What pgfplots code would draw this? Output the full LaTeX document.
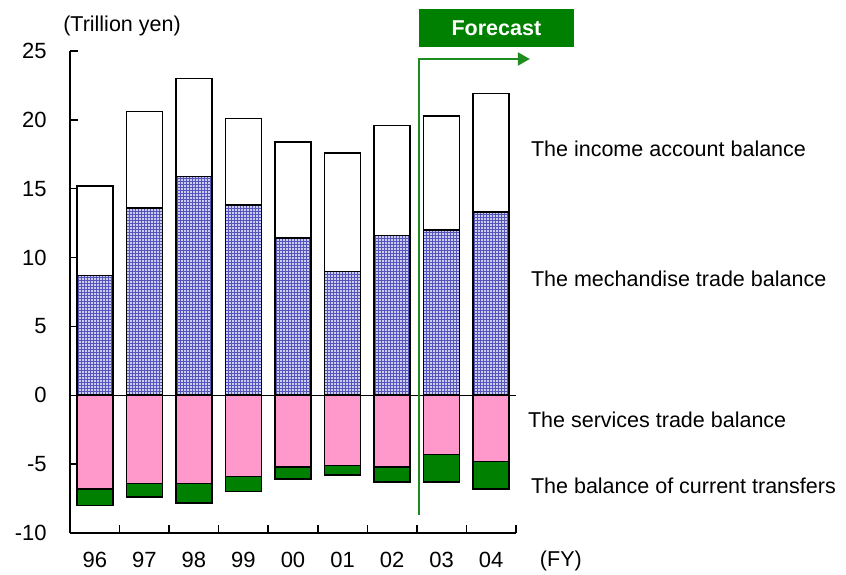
\documentclass[border=0pt]{standalone}
\usepackage{fontspec}
\setmainfont{Liberation Sans}
\usepackage{pgfplots}
\usepackage{pgfplotstable}
\pgfplotsset{compat=1.18}
\usetikzlibrary{patterns,arrows.meta}
\definecolor{pinkbar}{RGB}{255,153,204}
\definecolor{greenbar}{RGB}{0,128,0}
\definecolor{lav}{RGB}{205,205,242}
\definecolor{gridblue}{RGB}{85,85,185}
\definecolor{fcline}{RGB}{30,140,30}

\pgfplotstableread{
x mech income services transfers
0 8.7 6.5 -6.8 -1.2
1 13.6 7.0 -6.4 -1.0
2 15.9 7.1 -6.4 -1.4
3 13.8 6.3 -5.9 -1.1
4 11.4 7.0 -5.2 -0.9
5 9.0 8.6 -5.1 -0.7
6 11.6 8.0 -5.2 -1.1
7 12.0 8.3 -4.3 -2.0
8 13.3 8.6 -4.8 -2.0
}\datatable

\begin{document}
\fontsize{21.5}{26}\selectfont
\begin{tikzpicture}
\useasboundingbox (-70pt,-41pt) rectangle (776pt,533pt);
\begin{axis}[
  at={(0,0)}, anchor=south west,
  scale only axis, width=446pt, height=482pt,
  xmin=-0.5, xmax=8.5, ymin=-10, ymax=25,
  axis x line*=bottom, axis y line*=left,
  axis line style={line width=1.5pt, black},
  clip=false,
  ytick={-10,-5,...,25},
  xtick={0,...,8},
  xticklabels={96,97,98,99,00,01,02,03,04},
  major x tick style={draw=none},
  minor xtick={-0.5,0.5,...,8.5},
  minor x tick style={black, line width=1.5pt},
  minor tick length=8pt,
  major tick length=8pt,
  tick align=inside,
  y tick style={black, line width=1.5pt},
  /pgf/number format/assume math mode=true,
  tick label style={font=\fontsize{22}{26}\selectfont},
  yticklabel style={xshift=-16pt},
  xticklabel style={yshift=-12pt},
]
% positive stack
\addplot[ybar, bar width=0.726, bar shift=0pt, fill=white, draw=black, line width=1.6pt]
  table[x=x, y expr=\thisrow{mech}+\thisrow{income}] {\datatable};
\addplot[ybar, bar width=0.726, bar shift=0pt, preaction={fill=lav}, pattern=grid, pattern color=gridblue, draw=black, line width=1.6pt]
  table[x=x, y=mech] {\datatable};
% negative stack
\addplot[ybar, bar width=0.726, bar shift=0pt, fill=greenbar, draw=black, line width=1.6pt]
  table[x=x, y expr=\thisrow{services}+\thisrow{transfers}] {\datatable};
\addplot[ybar, bar width=0.726, bar shift=0pt, fill=pinkbar, draw=black, line width=1.6pt]
  table[x=x, y=services] {\datatable};
\draw[line width=1.5pt] (axis cs:-0.5,0) -- (axis cs:8.5,0);
% forecast
\draw[fcline, line width=2pt, -{Triangle[length=12pt,width=13pt]}]
  (axis cs:6.54,-8.69) -- (axis cs:6.54,24.42) -- (axis cs:8.78,24.42);
\fill[greenbar] (axis cs:6.54,25.29) rectangle (axis cs:9.67,28.05);
\node[text=white, font=\bfseries\fontsize{21.5}{26}\selectfont, inner sep=0pt] at (axis cs:8.105,26.67) {Forecast};
% labels
\node[anchor=base west, inner sep=0pt] at (axis cs:8.80,17.33) {The income account balance};
\node[anchor=base west, inner sep=0pt] at (axis cs:8.80,7.89) {The mechandise trade balance};
\node[anchor=base west, inner sep=0pt] at (axis cs:8.74,-2.32) {The services trade balance};
\node[anchor=base west, inner sep=0pt] at (axis cs:8.80,-7.12) {The balance of current transfers};
\node[anchor=base west, inner sep=0pt] at (axis cs:8.98,-12.45) {(FY)};
\node[anchor=base west, inner sep=0pt] at (axis cs:-0.64,26.41) {(Trillion yen)};
\end{axis}
\end{tikzpicture}
\end{document}
